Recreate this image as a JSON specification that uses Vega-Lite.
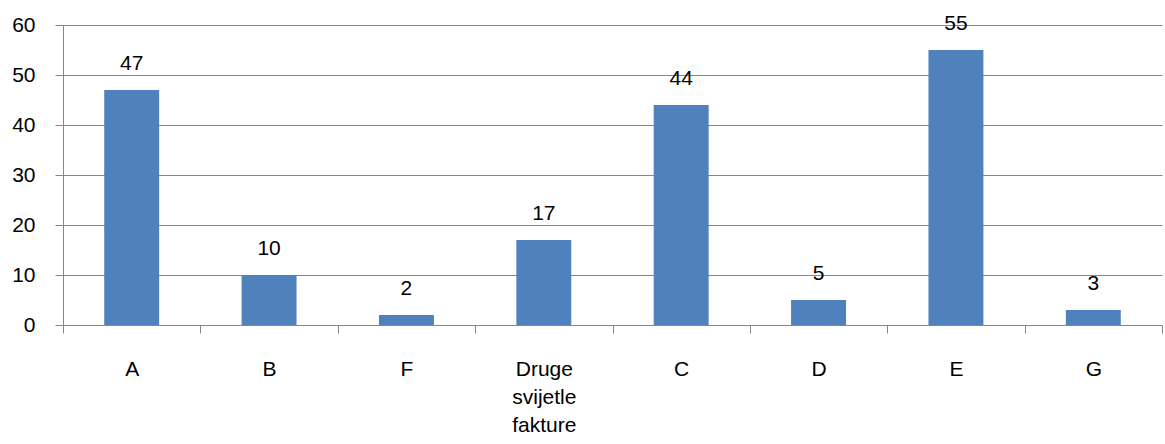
{
  "$schema": "https://vega.github.io/schema/vega-lite/v6.json",
  "width": 1099,
  "height": 300,
  "autosize": "none",
  "padding": {"left": 63, "top": 25, "right": 3, "bottom": 119},
  "background": "white",
  "config": {
    "view": {"stroke": null},
    "font": "Liberation Sans"
  },
  "data": {
    "values": [
      {"kategorija": "A", "vrijednost": 47},
      {"kategorija": "B", "vrijednost": 10},
      {"kategorija": "F", "vrijednost": 2},
      {"kategorija": "Druge svijetle fakture", "vrijednost": 17},
      {"kategorija": "C", "vrijednost": 44},
      {"kategorija": "D", "vrijednost": 5},
      {"kategorija": "E", "vrijednost": 55},
      {"kategorija": "G", "vrijednost": 3}
    ]
  },
  "encoding": {
    "x": {
      "field": "kategorija",
      "type": "nominal",
      "sort": null,
      "scale": {"paddingInner": 0, "paddingOuter": 0},
      "axis": {
        "title": null,
        "labelAngle": 0,
        "labelFont": "Liberation Sans",
        "labelFontSize": 21,
        "labelColor": "#000000",
        "labelPadding": 25,
        "labelLineHeight": 28,
        "labelExpr": "datum.label == 'Druge svijetle fakture' ? ['Druge', 'svijetle', 'fakture'] : datum.label",
        "tickBand": "extent",
        "tickSize": 8,
        "tickColor": "#868686",
        "domainColor": "#868686",
        "grid": false
      }
    }
  },
  "layer": [
    {
      "mark": {"type": "bar", "color": "#4F81BD", "width": {"band": 0.4}},
      "encoding": {
        "y": {
          "field": "vrijednost",
          "type": "quantitative",
          "scale": {"domain": [0, 60], "nice": false},
          "axis": {
            "title": null,
            "values": [0, 10, 20, 30, 40, 50, 60],
            "labelFont": "Liberation Sans",
            "labelFontSize": 21,
            "labelColor": "#000000",
            "labelPadding": 20,
            "tickSize": 8,
            "tickColor": "#868686",
            "domainColor": "#868686",
            "grid": true,
            "gridColor": "#868686",
            "gridOpacity": 1
          }
        }
      }
    },
    {
      "mark": {"type": "text", "font": "Liberation Sans", "fontSize": 21, "color": "#000000", "baseline": "alphabetic", "dy": -20},
      "encoding": {
        "y": {"field": "vrijednost", "type": "quantitative"},
        "text": {"field": "vrijednost", "type": "quantitative"}
      }
    }
  ]
}
